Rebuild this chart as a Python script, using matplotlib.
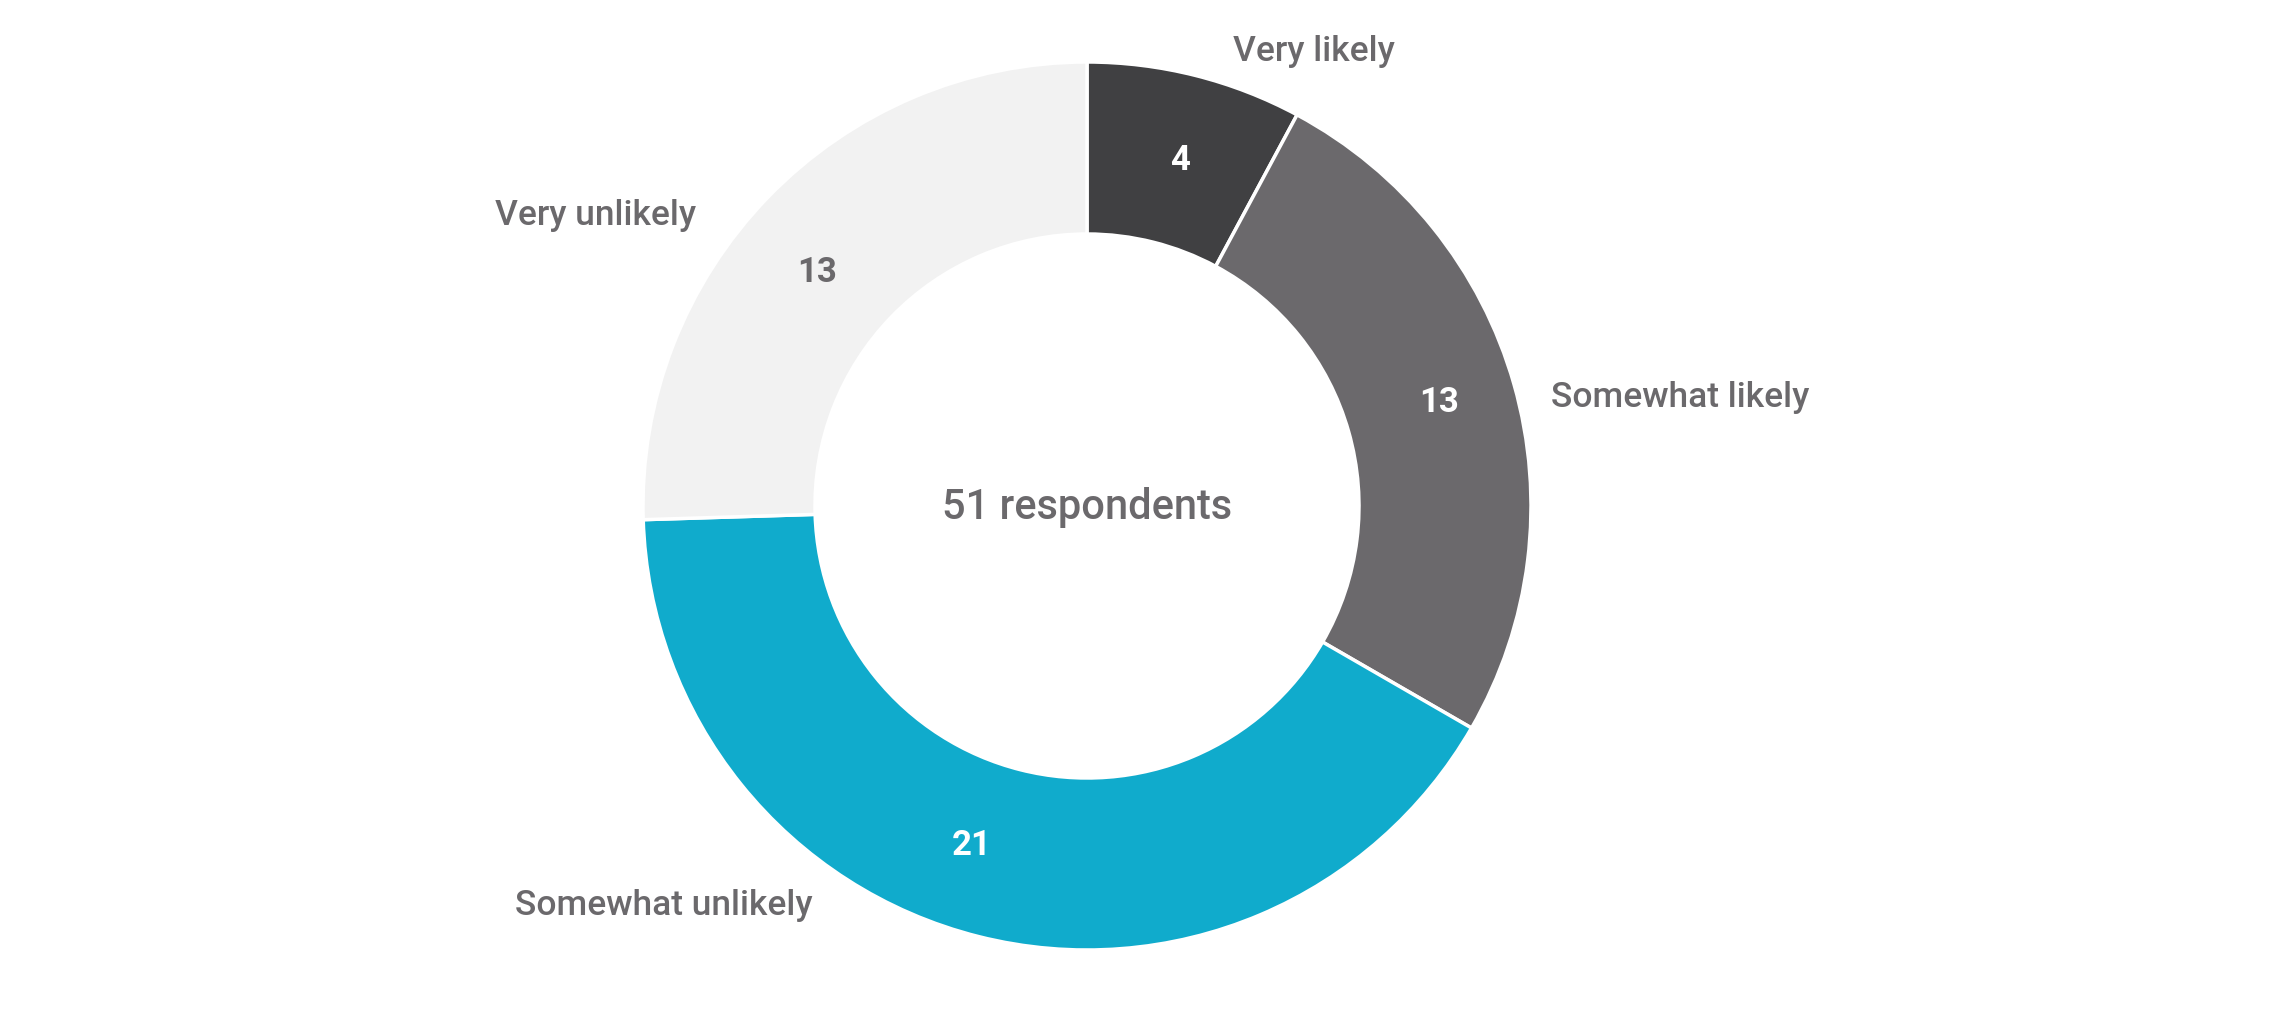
import matplotlib
matplotlib.use("Agg")
import matplotlib.pyplot as plt
import numpy as np

categories = ["Very likely", "Somewhat likely", "Somewhat unlikely", "Very unlikely"]
values = [4, 13, 21, 13]
colors = ["#404042", "#6b696c", "#10abcc", "#f2f2f2"]
value_colors = ["white", "white", "white", "#6b696c"]
center_text = "51 respondents"

W, H = 2284, 1020
fig = plt.figure(figsize=(W / 100, H / 100), dpi=100)
ax = fig.add_axes([0, 0, 1, 1])
ax.set_xlim(0, W)
ax.set_ylim(0, H)
ax.set_aspect("equal")
ax.axis("off")

cx, cy = 1087, H - 507
r_out, r_in = 444, 272
font = "Roboto"
txt_color = "#6b696c"

wedges, _ = ax.pie(values, colors=colors, startangle=90, counterclock=False,
                   radius=r_out, center=(cx, cy),
                   wedgeprops=dict(width=r_out - r_in, edgecolor="white", linewidth=2.5))
ax.set_xlim(0, W)
ax.set_ylim(0, H)

# value label positions (layout)
value_pos = [(1180, H - 160), (1439, H - 402), (972, H - 846), (817, H - 272)]
for (vx, vy), v, vc in zip(value_pos, values, value_colors):
    ax.text(vx, vy, str(v), ha="center", va="center",
            fontsize=25, fontweight="bold", color=vc, family=font)

# category labels
label_pos = [(1314, H - 52), (1680, H - 398), (664, H - 906), (596, H - 216)]
for (lx, ly), name in zip(label_pos, categories):
    ax.text(lx, ly, name, ha="center", va="center", fontsize=25.5, fontweight="medium",
            color=txt_color, family=font)

ax.text(cx, cy, center_text, ha="center", va="center", fontsize=30, fontweight="medium",
        color=txt_color, family=font)

fig.savefig("out.png", dpi=100)
